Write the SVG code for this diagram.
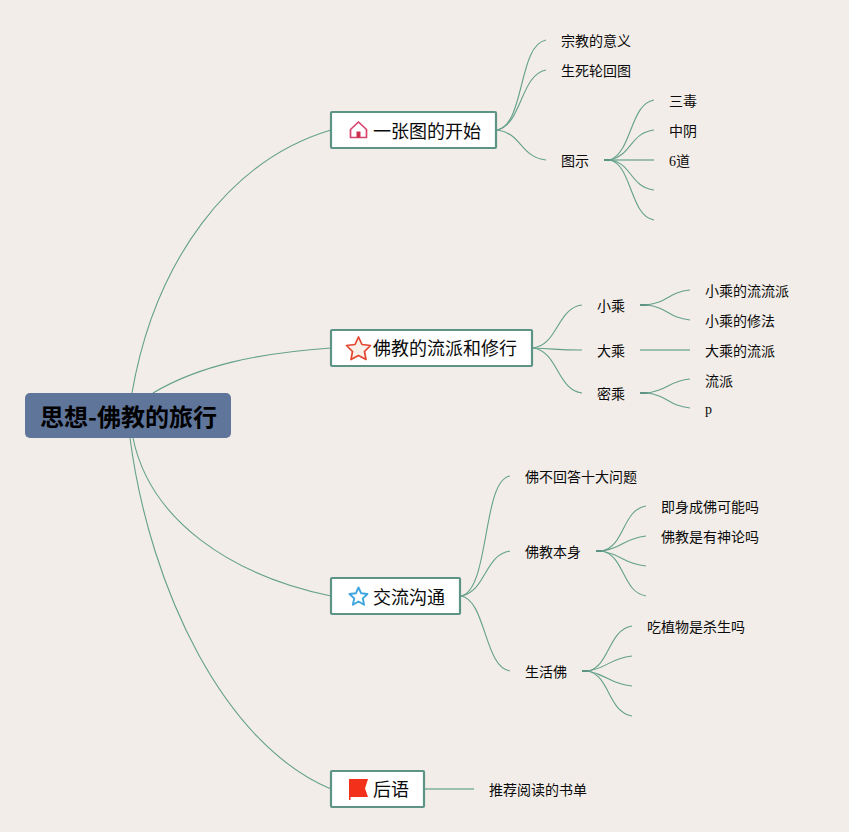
<svg xmlns="http://www.w3.org/2000/svg" width="849" height="832" viewBox="0 0 849 832">
<style>
.c{fill:none;stroke:#64a08c;stroke-width:1.100}
.s{fill:none;stroke:#64a08c;stroke-width:1.300;opacity:.8}
.h{fill:none;stroke:#5e9485;stroke-width:2}
.b{fill:#fff;stroke:#5e9485;stroke-width:2.200}
text{font-family:"Liberation Serif","Noto Sans CJK SC",sans-serif;fill:#0a0a0a}
.l{font-size:14px}
.t{font-size:18px}
.r{font-size:24px;font-weight:700;font-family:"Noto Sans CJK SC",sans-serif;text-anchor:middle;fill:#000}
</style>
<rect width="849" height="832" fill="#f2ede8"/>
<g id="connectors">
<path class="c" d="M132 393C155 260 230 160 331 130"/>
<path class="c" d="M153 393C200 365 260 353 331 348"/>
<path class="c" d="M133 438C150 520 230 575 331 596"/>
<path class="c" d="M130 438C150 590 225 745 331 789"/>
<path class="c" d="M497 130C525 125 518 45 546 40"/>
<path class="c" d="M497 130C522 125 520 75 546 70"/>
<path class="c" d="M497 130C522 133 520 157 546 160"/>
<path class="h" d="M604 160H612"/>
<path class="c" d="M610 160C632 152 630 104 654 100"/>
<path class="c" d="M610 160C632 155 630 133 654 130"/>
<path class="s" d="M610 160H654"/>
<path class="c" d="M610 160C632 163 630 187 654 190"/>
<path class="c" d="M610 160C632 165 630 216 654 220"/>
<path class="c" d="M533 348C558 345 557 308 582 305"/>
<path class="c" d="M533 348C558 349 557 350 582 350"/>
<path class="c" d="M533 348C558 351 557 390 582 393"/>
<path class="h" d="M640 305H648"/>
<path class="c" d="M646 305C668 303 668 292 690 290"/>
<path class="c" d="M646 305C668 307 668 318 690 320"/>
<path class="s" d="M640 350H690"/>
<path class="h" d="M640 393H648"/>
<path class="c" d="M646 393C668 391 668 381 690 379"/>
<path class="c" d="M646 393C668 395 668 406 690 408"/>
<path class="c" d="M461 596C490 590 482 480 510 476"/>
<path class="c" d="M461 596C486 592 484 555 510 551"/>
<path class="c" d="M461 596C486 600 484 667 510 671"/>
<path class="h" d="M596 551H604"/>
<path class="c" d="M602 551C625 546 622 510 646 506"/>
<path class="c" d="M602 551C625 547 622 539 646 536"/>
<path class="c" d="M602 551C625 556 622 563 646 566"/>
<path class="c" d="M602 551C625 556 622 592 646 596"/>
<path class="h" d="M582 671H590"/>
<path class="c" d="M588 671C610 666 608 630 632 626"/>
<path class="c" d="M588 671C610 667 608 659 632 656"/>
<path class="c" d="M588 671C610 676 608 683 632 686"/>
<path class="c" d="M588 671C610 676 608 712 632 716"/>
<path class="s" d="M425 789H474"/>
</g>
<g id="root"><rect x="25" y="393" width="206" height="45" rx="5" fill="#5f7599"/><text class="r" x="128.500" y="426">思想-佛教的旅行</text></g>
<g id="n1"><rect class="b" x="331" y="112" width="165" height="36" rx="1"/>
<path d="M350.500 137.500V129.500L358.500 122L366.500 129.500V137.500Z" fill="#fff" stroke="#d9426c" stroke-width="1.700" stroke-linejoin="round"/><rect x="356.500" y="131.500" width="4" height="6" fill="#c9314f"/>
<text class="t" x="373" y="138">一张图的开始</text></g>
<g id="n2"><rect class="b" x="331" y="330" width="201" height="36" rx="1"/>
<path d="M358.500 337L362 344.500 370.500 345.500 364.500 351.500 366 359.500 358.500 355.500 351 359.500 352.500 351.500 346.500 345.500 355 344.500Z" fill="#f8efe9" stroke="#e4452f" stroke-width="1.700" stroke-linejoin="round"/>
<text class="t" x="373" y="355">佛教的流派和修行</text></g>
<g id="n3"><rect class="b" x="331" y="578" width="129" height="36" rx="1"/>
<path d="M358.500 587.500L361.200 593.300 367.500 594 362.800 598.400 364.100 604.700 358.500 601.500 352.900 604.700 354.200 598.400 349.500 594 355.800 593.300Z" fill="#fff" stroke="#3fa5de" stroke-width="1.900" stroke-linejoin="round"/>
<text class="t" x="373" y="604">交流沟通</text></g>
<g id="n4"><rect class="b" x="331" y="771" width="93" height="36" rx="1"/>
<path d="M349 779H368L365 788.500 368 797H350.500V800H349Z" fill="#f3301a"/>
<text class="t" x="373" y="796">后语</text></g>
<g id="labels">
<g id="a1"><text class="l" x="561" y="46">宗教的意义</text></g>
<g id="a2"><text class="l" x="561" y="76">生死轮回图</text></g>
<g id="a3"><text class="l" x="561" y="166">图示</text></g>
<g id="a4"><text class="l" x="669" y="106">三毒</text></g>
<g id="a5"><text class="l" x="669" y="136">中阴</text></g>
<g id="a6"><text class="l" x="669" y="166">6道</text></g>
<g id="b1"><text class="l" x="597" y="311">小乘</text></g>
<g id="b2"><text class="l" x="597" y="356">大乘</text></g>
<g id="b3"><text class="l" x="597" y="399">密乘</text></g>
<g id="b4"><text class="l" x="705" y="296">小乘的流流派</text></g>
<g id="b5"><text class="l" x="705" y="326">小乘的修法</text></g>
<g id="b6"><text class="l" x="705" y="356">大乘的流派</text></g>
<g id="b7"><text class="l" x="705" y="386">流派</text></g>
<g id="b8"><text class="l" x="705" y="414">p</text></g>
<g id="c1"><text class="l" x="525" y="482">佛不回答十大问题</text></g>
<g id="c2"><text class="l" x="525" y="557">佛教本身</text></g>
<g id="c3"><text class="l" x="525" y="677">生活佛</text></g>
<g id="c4"><text class="l" x="661" y="512">即身成佛可能吗</text></g>
<g id="c5"><text class="l" x="661" y="542">佛教是有神论吗</text></g>
<g id="c6"><text class="l" x="647" y="632">吃植物是杀生吗</text></g>
<g id="d1"><text class="l" x="489" y="795">推荐阅读的书单</text></g>
</g>
</svg>
